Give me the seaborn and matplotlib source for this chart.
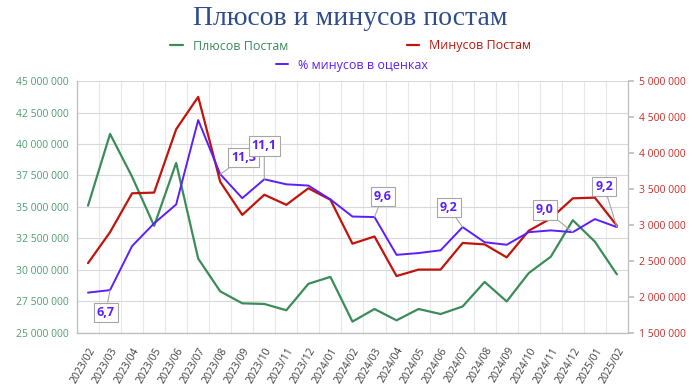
import numpy as np
import pandas as pd
import matplotlib
matplotlib.use("Agg")
import matplotlib.pyplot as plt
from matplotlib.ticker import FuncFormatter
import seaborn as sns

# ===================================================================
# DATA
# ===================================================================
months = ["2023/02", "2023/03", "2023/04", "2023/05", "2023/06", "2023/07",
          "2023/08", "2023/09", "2023/10", "2023/11", "2023/12", "2024/01",
          "2024/02", "2024/03", "2024/04", "2024/05", "2024/06", "2024/07",
          "2024/08", "2024/09", "2024/10", "2024/11", "2024/12", "2025/01",
          "2025/02"]

plus_posts = [35.1, 40.8, 37.4, 33.5, 38.5, 30.9, 28.3, 27.35, 27.3, 26.8,
              28.9, 29.45, 25.9, 26.9, 26.0, 26.9, 26.5, 27.1, 29.05, 27.5,
              29.75, 31.05, 33.95, 32.25, 29.65]
plus_posts = [v * 1e6 for v in plus_posts]

minus_posts = [2.47, 2.90, 3.44, 3.45, 4.33, 4.78, 3.60, 3.14, 3.42, 3.28,
               3.51, 3.35, 2.74, 2.84, 2.29, 2.38, 2.38, 2.75, 2.73, 2.55,
               2.92, 3.09, 3.37, 3.38, 2.99]
minus_posts = [v * 1e6 for v in minus_posts]

minus_pct = [6.6, 6.7, 8.45, 9.35, 10.1, 13.45, 11.3, 10.35, 11.1, 10.9,
             10.85, 10.3, 9.62, 9.6, 8.1, 8.17, 8.28, 9.2, 8.6, 8.5,
             9.0, 9.07, 9.0, 9.52, 9.2]

# indices with data labels and their label offsets (points)
label_idx = [1, 6, 8, 13, 17, 22, 24]
label_off = [(-3, -16), (17, 12), (0, 24), (6, 15), (-10, 14), (-20, 16), (-9, 29)]

GREEN = "#3C8C5A"
RED = "#C0140C"
PURPLE = "#5A1EFF"

df = pd.DataFrame({"pos": np.arange(len(months)), "month": months,
                   "plus": plus_posts, "minus": minus_posts, "pct": minus_pct})

# ===================================================================
# PLOT
# ===================================================================
sns.set_theme(style="white")
plt.rcParams["font.family"] = ["Open Sans", "DejaVu Sans"]

fig = plt.figure(figsize=(7, 3.84), dpi=100)
ax = fig.add_axes([0.11, 0.133, 0.787, 0.656])
ax2 = ax.twinx()
ax3 = ax.twinx()

sns.lineplot(data=df, x="pos", y="plus", ax=ax, color=GREEN, lw=1.6, label="Плюсов Постам", legend=False)
sns.lineplot(data=df, x="pos", y="minus", ax=ax2, color=RED, lw=1.6, label="Минусов Постам", legend=False)
sns.lineplot(data=df, x="pos", y="pct", ax=ax3, color=PURPLE, lw=1.4, label="% минусов в оценках", legend=False)

n = len(months)
ax.set_xlim(-0.5, n - 0.5)
ax.set_ylim(25e6, 45e6)
ax.set_yticks(np.arange(25e6, 45e6 + 1, 2.5e6))
ax2.set_ylim(1.5e6, 5e6)
ax2.set_yticks(np.arange(1.5e6, 5e6 + 1, 0.5e6))
ax3.set_ylim(5, 15)

fmt = FuncFormatter(lambda v, p: f"{int(v):,}".replace(",", " "))
ax.yaxis.set_major_formatter(fmt)
ax2.yaxis.set_major_formatter(fmt)

ax.set_xticks(df["pos"])
ax.set_xticklabels(months, rotation=60, ha="right", rotation_mode="anchor", fontsize=7.5, color="#404040")
ax.set_xticks(np.arange(-0.5, n), minor=True)
ax.tick_params(axis="x", which="major", length=0, pad=9)
ax.tick_params(axis="x", which="minor", length=5, color="#BFBFBF", width=0.8, direction="out")
ax.tick_params(axis="y", length=0, labelsize=7.5, labelcolor="#4E9F6E", pad=6)
ax2.tick_params(axis="y", length=4, color="#BFBFBF", labelsize=7.5, labelcolor="#C8302A", pad=4)

ax.grid(axis="y", which="major", color="#D9D9D9", lw=0.8)
ax.grid(axis="x", which="minor", color="#E8E8E8", lw=0.8)
ax.grid(axis="x", which="major", visible=False)
for a in (ax, ax2, ax3):
    a.set_xlabel("")
    a.set_ylabel("")
    for s in a.spines.values():
        s.set_color("#BFBFBF")
        s.set_linewidth(0.8)
    a.spines["top"].set_visible(False)
ax.spines["left"].set_color("#E0E0E0")
ax3.spines["right"].set_visible(False)
ax3.set_yticks([])

# data labels on the percentage series
for i, (dx, dy) in zip(label_idx, label_off):
    v = minus_pct[i]
    ax3.annotate(f"{v:.1f}".replace(".", ","), xy=(i, v), xytext=(dx, dy),
                 textcoords="offset points", ha="center", va="center",
                 fontsize=9, fontweight="bold", color=PURPLE,
                 bbox=dict(boxstyle="square,pad=0.25", facecolor="white", edgecolor="#A6A6A6", lw=0.8),
                 arrowprops=dict(arrowstyle="-", color="#A6A6A6", lw=0.8, shrinkA=0, shrinkB=0))

fig.suptitle("Плюсов и минусов постам", x=0.5, y=0.985, fontsize=20,
             family="Liberation Serif", color="#2F4C8C")

h1, l1 = ax.get_legend_handles_labels()
h2, l2 = ax2.get_legend_handles_labels()
h3, l3 = ax3.get_legend_handles_labels()
fig.legend(h1 + h2, l1 + l2, loc="center", bbox_to_anchor=(0.501, 1 - 46 / 384), ncol=2,
           frameon=False, fontsize=9, handlelength=1.0, columnspacing=9.5, handletextpad=0.8,
           labelcolor="linecolor")
fig.legend(h3, l3, loc="center", bbox_to_anchor=(0.503, 1 - 65 / 384), ncol=1,
           frameon=False, fontsize=9, handlelength=1.0, handletextpad=0.8, labelcolor="linecolor")

fig.savefig("out.png", dpi=100)
